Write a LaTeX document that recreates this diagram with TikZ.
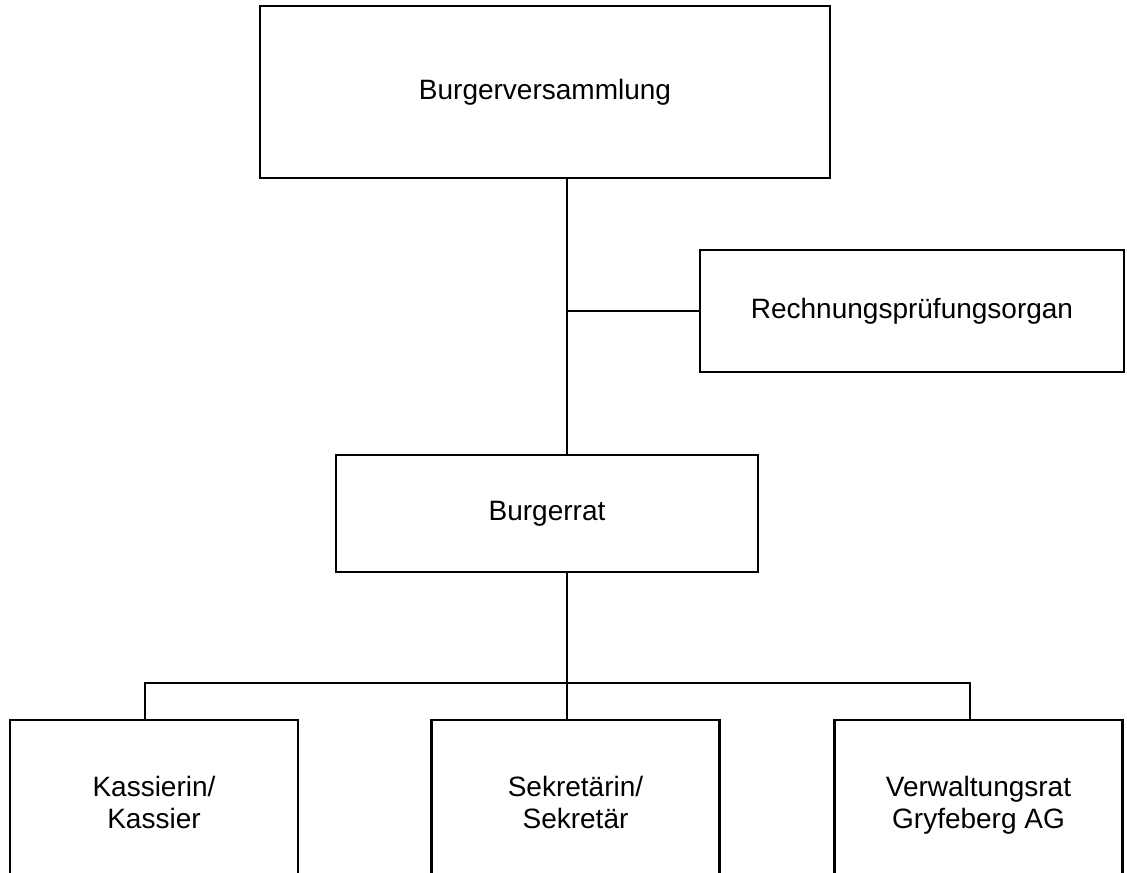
\documentclass[tikz,border=0pt]{standalone}
\usepackage{fontspec}
\setmainfont{Liberation Sans}
\begin{document}
\begin{tikzpicture}[x=0.75pt,y=-0.75pt,
    orgbox/.style={draw,line width=1.8pt,inner sep=0pt,align=center,font=\fontsize{21}{24}\selectfont},
    lowbox/.style={orgbox,anchor=north,minimum width=216pt,inner ysep=42pt,text depth=60pt},
    link/.style={line width=1.8pt}]
        \useasboundingbox (0,0) rectangle (1127,872);
        \node[orgbox,minimum width=427.5pt,minimum height=129pt] (versammlung) at (545,92) {Burgerversammlung};
        \node[orgbox,minimum width=318pt,minimum height=91.5pt] (pruefung) at (912,311) {Rechnungsprüfungsorgan};
        \node[orgbox,minimum width=316.5pt,minimum height=87.75pt] (rat) at (547,513.5) {Burgerrat};
        \node[lowbox] (kasse) at (154,719) {Kassierin/\\Kassier};
        \node[lowbox] (sekretariat) at (575.5,719) {Sekretärin/\\Sekretär};
        \node[lowbox] (vr) at (978.5,719) {Verwaltungsrat\\Gryfeberg AG};
        \coordinate (stamm) at (567,0);
        \coordinate (astL) at (145,683);
        \coordinate (astR) at (970,683);
        \draw[link] (versammlung.south -| stamm) -- (rat.north -| stamm);
        \draw[link] (pruefung.west) -- (pruefung.west -| stamm);
        \draw[link] (rat.south -| stamm) -- (sekretariat.north -| stamm);
        \draw[link] (kasse.north -| astL) -- (astL) -- (astR) -- (vr.north -| astR);
\end{tikzpicture}
\end{document}
